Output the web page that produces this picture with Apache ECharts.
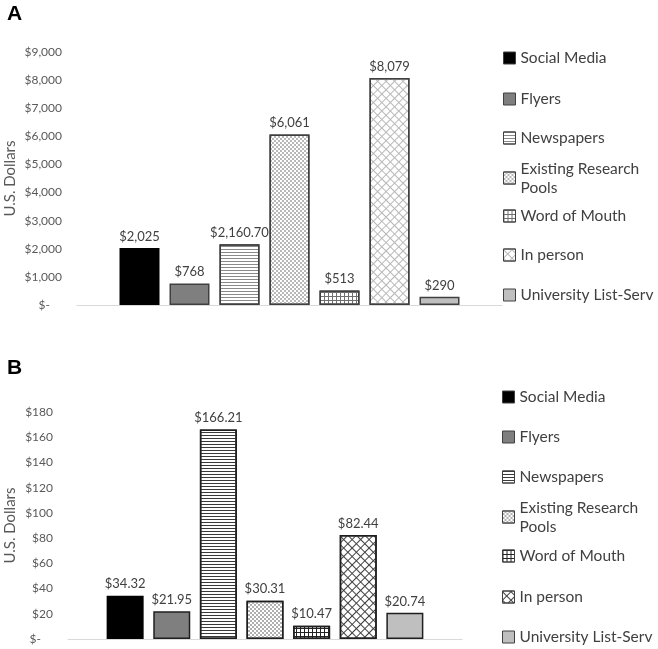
<!DOCTYPE html>
<html>
<head>
<meta charset="utf-8">
<script src="https://cdn.jsdelivr.net/npm/echarts@6/dist/echarts.min.js"></script>
<style>
html,body{margin:0;padding:0;background:#fff;}
#chart{width:658px;height:649px;}
</style>
</head>
<body>
<div id="chart"></div>
<script>
// ---- data ----
const seriesNames = ['Social Media','Flyers','Newspapers','Existing Research Pools','Word of Mouth','In person','University List-Serv'];
const valuesA = [2025, 768, 2160.70, 6061, 513, 8079, 290];
const labelsA = ['$2,025','$768','$2,160.70','$6,061','$513','$8,079','$290'];
const valuesB = [34.32, 21.95, 166.21, 30.31, 10.47, 82.44, 20.74];
const labelsB = ['$34.32','$21.95','$166.21','$30.31','$10.47','$82.44','$20.74'];
const yTicksA = {min:0, max:9000, interval:1000};
const yTicksB = {min:0, max:180, interval:20};
const panelTitles = ['A','B'];
const axisName = 'U.S. Dollars';

// ---- styles ----
const FONT = 'Lato';
function fmtTick(v){ return v === 0 ? '{z|$-}' : '$' + v.toLocaleString('en-US'); }

function styles(dark){
  const bd = dark ? '#1f1f1f' : '#404040';
  const base = {symbol:'rect', symbolSize:1, symbolKeepAspect:false};
  return [
    {color:'#000000', borderColor:'#000000', borderWidth:1.5},
    {color:'#7f7f7f', borderColor:bd, borderWidth:1.5},
    {color:'#ffffff', borderColor:bd, borderWidth:1.5,
      decal:Object.assign({}, base, {dashArrayX:[1,0], dashArrayY:[1,2], color: dark ? '#3a3a3a' : '#8a8a8a'})},
    {color:'#ffffff', borderColor:bd, borderWidth:1.5,
      decal:Object.assign({}, base, {dashArrayX:[[2,2],[0,2,2,0]], dashArrayY:[2,0], color: dark ? '#b0b0b0' : '#b8b8b8'})},
    {color:'#ffffff', borderColor:bd, borderWidth:1.5,
      decal:Object.assign({}, base, {dashArrayX:[[4,0],[1,3]], dashArrayY:[1,0,3,0], color: dark ? '#222222' : '#707070'})},
    {color:'#ffffff', borderColor:bd, borderWidth:1.5,
      decal:Object.assign({}, base, {dashArrayX:[[6,0],[1,5]], dashArrayY:[1,0,5,0], rotation:Math.PI/4, color: dark ? '#404040' : '#b8b8b8'})},
    {color:'#bfbfbf', borderColor:bd, borderWidth:1.5}
  ];
}

const panels = [
  {values:valuesA, labels:labelsA, ticks:yTicksA, prefix:'',
   grid:{left:77, right:156, top:52, bottom:344}, barWidth:40, barGap:'25%', nameGap:59,
   legendLeft:503, legendCenters:[58,99,138,178,216,255,295], titleTop:4, dark:false},
  {values:valuesB, labels:labelsB, ticks:yTicksB, prefix:'B:',
   grid:{left:68, right:196, top:412, bottom:10}, barWidth:37, barGap:'26%', nameGap:50,
   legendLeft:502, legendCenters:[397,437,477,517,556,597,637], titleTop:358, dark:true}
];

const option = {
  backgroundColor:'#ffffff',
  animation:false,
  title:[], grid:[], xAxis:[], yAxis:[], series:[], legend:[]
};

panels.forEach((p, pi) => {
  option.title.push({text:panelTitles[pi], left:7, top:p.titleTop, padding:0,
    textStyle:{fontFamily:'Liberation Sans', fontWeight:'bold', fontSize:21, color:'#000'}});
  option.grid.push(Object.assign({containLabel:false, outerBoundsMode:'none'}, p.grid));
  option.xAxis.push({type:'category', gridIndex:pi, data:[''],
    axisLine:{show:true, lineStyle:{color:'#d9d9d9', width:1}},
    axisTick:{show:false}, axisLabel:{show:false}, splitLine:{show:false}});
  option.yAxis.push({type:'value', gridIndex:pi, min:p.ticks.min, max:p.ticks.max, interval:p.ticks.interval,
    name:axisName, nameLocation:'middle', nameRotate:90, nameGap:p.nameGap, nameMoveOverlap:false,
    nameTextStyle:{fontFamily:FONT, fontSize:15, color:'#595959'},
    axisLine:{show:false}, axisTick:{show:false}, splitLine:{show:false},
    axisLabel:{margin:15, fontFamily:FONT, fontSize:12, color:'#595959', formatter:fmtTick,
      rich:{z:{fontFamily:FONT, fontSize:12, color:'#595959', padding:[0,12,0,0]}}}});
  const st = styles(p.dark);
  seriesNames.forEach((nm, i) => {
    option.series.push({
      type:'bar', name:p.prefix + nm, xAxisIndex:pi, yAxisIndex:pi,
      barWidth:p.barWidth, barGap:p.barGap,
      data:[p.values[i]],
      itemStyle:st[i],
      label:{show:true, position:'top', distance:5, fontFamily:FONT, fontSize:13, color:'#404040',
        formatter:(function(s){return function(){return s;};})(p.labels[i])}
    });
    const multi = nm === 'Existing Research Pools';
    option.legend.push({
      data:[p.prefix + nm], left:p.legendLeft,
      top: multi ? p.legendCenters[i] - 6 - 19 - 3.5 : p.legendCenters[i] - 9.5,
      orient:'vertical', icon:'rect', itemWidth:12, itemHeight:12, padding:0, selectedMode:false,
      itemStyle:{borderColor:'#404040', borderWidth:1},
      formatter: function(n){ const t = n.replace('B:',''); return t === 'Existing Research Pools' ? 'Existing Research\nPools' : t; },
      textStyle: multi ? {fontFamily:FONT, fontSize:15.5, color:'#404040', lineHeight:19, padding:[19,0,0,0]}
                       : {fontFamily:FONT, fontSize:15.5, color:'#404040', lineHeight:19}
    });
  });
});

const chart = echarts.init(document.getElementById('chart'), null, {renderer:'canvas'});
chart.setOption(option);
</script>
</body>
</html>
